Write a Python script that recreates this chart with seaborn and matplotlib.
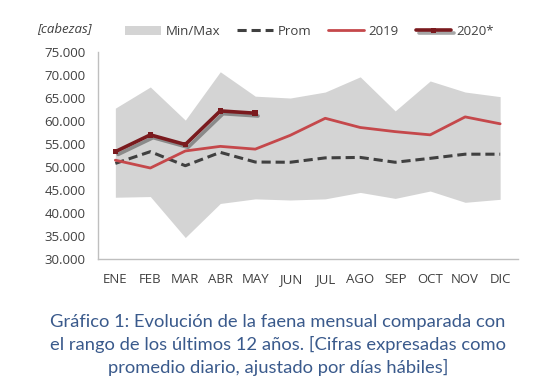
import numpy as np
import pandas as pd
import matplotlib.pyplot as plt
import matplotlib.patheffects as pe
import seaborn as sns

# Data
meses = ["ENE", "FEB", "MAR", "ABR", "MAY", "JUN", "JUL", "AGO", "SEP", "OCT", "NOV", "DIC"]
maximo = [62700, 67300, 60100, 70600, 65300, 64900, 66200, 69500, 62100, 68600, 66200, 65200]
minimo = [43350, 43500, 34600, 42000, 43000, 42750, 43000, 44400, 43100, 44700, 42250, 42900]
prom = [50700, 53250, 50200, 53100, 51000, 50950, 51900, 52000, 50950, 51800, 52700, 52700]
y2019 = [51400, 49700, 53400, 54400, 53800, 56800, 60500, 58500, 57600, 56900, 60800, 59300]
y2020 = [53250, 56900, 54800, 62100, 61600]

sns.set_style("white")
plt.rcParams["font.family"] = ["Open Sans", "DejaVu Sans"]

df = pd.DataFrame({"x": np.arange(len(meses)), "prom": prom, "y2019": y2019})
df20 = pd.DataFrame({"x": np.arange(len(y2020)), "y2020": y2020})

fig = plt.figure(figsize=(5.56, 3.83), dpi=100)
ax = fig.add_axes([0.176, 0.3245, 0.755, 0.541])

ax.fill_between(df["x"], minimo, maximo, color="#d4d4d4", lw=0, label="Min/Max")
sns.lineplot(data=df, x="x", y="prom", ax=ax, color="#404040", lw=2.2,
             linestyle=(0, (3, 1.6)), label="Prom")
sns.lineplot(data=df, x="x", y="y2019", ax=ax, color="#c5484b", lw=2, label="2019")
sns.lineplot(data=df20, x="x", y="y2020", ax=ax, color="#7a1a1e", lw=2.6,
             marker="s", markersize=4, markeredgewidth=0, label="2020*",
             path_effects=[pe.SimpleLineShadow(offset=(2, -2), alpha=0.35), pe.Normal()])

ax.set_xlim(-0.5, 11.5)
ax.set_ylim(30000, 75000)
ax.set_yticks(np.arange(30000, 75001, 5000))
ax.set_yticklabels([f"{v:,}".replace(",", ".") for v in range(30000, 75001, 5000)])
ax.set_xticks(np.arange(len(meses)))
ax.set_xticklabels(meses)
ax.set_xticks(np.arange(-0.5, 12, 1), minor=True)
ax.tick_params(axis="x", which="major", length=0, pad=10, labelsize=9.5, colors="#404040")
ax.tick_params(axis="x", which="minor", length=5, width=1, color="#bfbfbf", direction="out")
ax.tick_params(axis="y", length=5, width=1, color="#bfbfbf", direction="out",
               labelsize=9.5, colors="#404040", pad=4)
ax.set_xlabel("")
ax.set_ylabel("")
for s in ["top", "right"]:
    ax.spines[s].set_visible(False)
for s in ["left", "bottom"]:
    ax.spines[s].set_color("#bfbfbf")
    ax.spines[s].set_linewidth(1)

ax.legend(loc="lower left", bbox_to_anchor=(0.065, 1.065), ncol=4, frameon=False,
          fontsize=9.5, handlelength=2.7, handletextpad=0.35, columnspacing=1.3,
          labelcolor="#404040", borderaxespad=0, borderpad=0)

fig.text(0.066, 0.925, "[cabezas]", fontsize=9.5, style="italic", color="#404040",
         ha="left", va="center")

caption = ("Gráfico 1: Evolución de la faena mensual comparada con\n"
           "el rango de los últimos 12 años. [Cifras expresadas como\n"
           "promedio diario, ajustado por días hábiles]")
fig.text(0.5, 0.099, caption, ha="center", va="center", fontsize=13.2,
         color="#3a5a8c", linespacing=1.42, family=["Lato", "DejaVu Sans"])

fig.savefig("out.png", dpi=100)
